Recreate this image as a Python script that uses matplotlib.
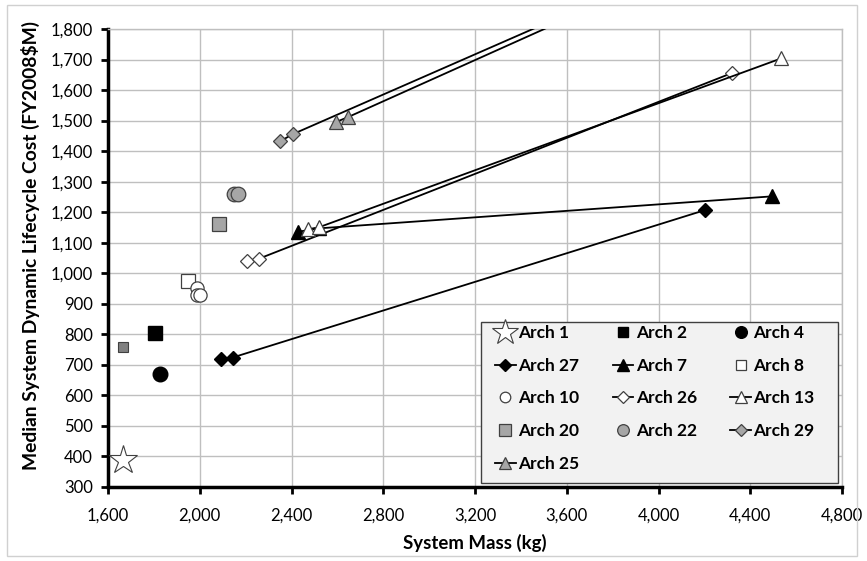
import matplotlib

matplotlib.use("Agg")
import matplotlib.pyplot as plt
from matplotlib.patches import Rectangle
from matplotlib.ticker import FuncFormatter

# System mass (kg) / median lifecycle cost (FY2008$M)
ARCH1_MASS = [1665]
ARCH1_COST = [390]
ARCH2_MASS = [1805]
ARCH2_COST = [804]
ARCH4_MASS = [1828]
ARCH4_COST = [669]
ARCH27_MASS = [2091, 2143, 4203]
ARCH27_COST = [718, 724, 1207]
ARCH7_MASS = [2429, 2518, 4497]
ARCH7_COST = [1136, 1147, 1252]
ARCH8_MASS = [1947]
ARCH8_COST = [975]
ARCH10_MASS = [1986, 1990, 2001]
ARCH10_COST = [951, 929, 929]
ARCH26_MASS = [2204, 2259, 4321]
ARCH26_COST = [1040, 1048, 1656]
ARCH13_MASS = [2473, 2521, 4536]
ARCH13_COST = [1144, 1151, 1704]
ARCH20_MASS = [2085]
ARCH20_COST = [1160]
ARCH20B_MASS = [1667]
ARCH20B_COST = [759]
ARCH22_MASS = [2151, 2168]
ARCH22_COST = [1259, 1259]
ARCH29_MASS = [2352, 2407, 4400]
ARCH29_COST = [1433, 1456, 2112]
ARCH25_MASS = [2593, 2645, 4620]
ARCH25_COST = [1495, 1511, 2177]

X_TICKS = list(range(1600, 4801, 400))
Y_TICKS = list(range(300, 1801, 100))

FONT = ["Lato", "DejaVu Sans"]
GRAY = "#a6a6a6"
EDGE = "#404040"
W, H = 867, 561


def _comma(value, _pos):
    return f"{int(value):,}"


plt.rcParams["font.family"] = FONT

fig = plt.figure(figsize=(W / 100, H / 100), dpi=100)
fig.patches.append(
    Rectangle(
        (7 / W, 1 - 556 / H),
        850 / W,
        551 / H,
        transform=fig.transFigure,
        fill=False,
        edgecolor="#d0d0d0",
        linewidth=1.0,
    )
)
ax = fig.add_axes([108 / W, 1 - 487 / H, 734 / W, 458 / H])

handles = {}
line_kw = dict(color="black", linewidth=1.3, zorder=3)

handles["Arch 1"], = ax.plot(ARCH1_MASS, ARCH1_COST, linestyle="none", marker="*",
                             markersize=21, markerfacecolor="white",
                             markeredgecolor=EDGE, markeredgewidth=0.8, zorder=4)
ax.plot(ARCH20B_MASS, ARCH20B_COST, linestyle="none", marker="s", markersize=6.5,
        markerfacecolor="#808080", markeredgecolor=EDGE, markeredgewidth=0.8, zorder=4)
handles["Arch 2"], = ax.plot(ARCH2_MASS, ARCH2_COST, linestyle="none", marker="s",
                             markersize=9.5, color="black", zorder=4)
handles["Arch 4"], = ax.plot(ARCH4_MASS, ARCH4_COST, linestyle="none", marker="o",
                             markersize=10.5, color="black", zorder=4)
handles["Arch 27"], = ax.plot(ARCH27_MASS, ARCH27_COST, marker="D", markersize=7.5,
                              markerfacecolor="black", markeredgecolor="black", **line_kw)
handles["Arch 8"], = ax.plot(ARCH8_MASS, ARCH8_COST, linestyle="none", marker="s",
                             markersize=9.5, markerfacecolor="white",
                             markeredgecolor=EDGE, markeredgewidth=0.9, zorder=4)
handles["Arch 10"], = ax.plot(ARCH10_MASS, ARCH10_COST, linestyle="none", marker="o",
                              markersize=9.5, markerfacecolor="white",
                              markeredgecolor=EDGE, markeredgewidth=0.9, zorder=4)
handles["Arch 20"], = ax.plot(ARCH20_MASS, ARCH20_COST, linestyle="none", marker="s",
                              markersize=10, markerfacecolor=GRAY,
                              markeredgecolor=EDGE, markeredgewidth=0.9, zorder=4)
handles["Arch 22"], = ax.plot(ARCH22_MASS, ARCH22_COST, linestyle="none", marker="o",
                              markersize=10.5, markerfacecolor=GRAY,
                              markeredgecolor=EDGE, markeredgewidth=0.9, zorder=4)
handles["Arch 26"], = ax.plot(ARCH26_MASS, ARCH26_COST, marker="D", markersize=7.5,
                              markerfacecolor="white", markeredgecolor=EDGE,
                              markeredgewidth=0.9, **line_kw)
handles["Arch 7"], = ax.plot(ARCH7_MASS, ARCH7_COST, marker="^", markersize=10,
                             markerfacecolor="black", markeredgecolor="black", **line_kw)
handles["Arch 13"], = ax.plot(ARCH13_MASS, ARCH13_COST, marker="^", markersize=10,
                              markerfacecolor="white", markeredgecolor=EDGE,
                              markeredgewidth=0.9, **line_kw)
handles["Arch 29"], = ax.plot(ARCH29_MASS, ARCH29_COST, marker="D", markersize=7.5,
                              markerfacecolor=GRAY, markeredgecolor=EDGE,
                              markeredgewidth=0.9, **line_kw)
handles["Arch 25"], = ax.plot(ARCH25_MASS, ARCH25_COST, marker="^", markersize=10,
                              markerfacecolor=GRAY, markeredgecolor=EDGE,
                              markeredgewidth=0.9, **line_kw)

ax.set_xlim(X_TICKS[0], X_TICKS[-1])
ax.set_ylim(Y_TICKS[0], Y_TICKS[-1])
ax.set_xticks(X_TICKS)
ax.set_yticks(Y_TICKS)
ax.xaxis.set_major_formatter(FuncFormatter(_comma))
ax.yaxis.set_major_formatter(FuncFormatter(_comma))
ax.tick_params(axis="both", direction="out", length=5, width=2, labelsize=12,
               colors="black")
ax.tick_params(axis="x", pad=10)
ax.tick_params(axis="y", pad=6)
ax.grid(True, color="#bfbfbf", linewidth=1.0)
ax.set_axisbelow(True)
for side in ("left", "bottom"):
    ax.spines[side].set_linewidth(2.5)
    ax.spines[side].set_color("black")
for side in ("top", "right"):
    ax.spines[side].set_linewidth(1.0)
    ax.spines[side].set_color("#bfbfbf")

ax.set_xlabel("System Mass (kg)", fontsize=13.4, fontweight="bold")
ax.set_ylabel("Median System Dynamic Lifecycle Cost (FY2008$M)", fontsize=13.9,
              fontweight="bold")
ax.xaxis.set_label_coords(0.5, (487 - 534) / 458)
ax.yaxis.set_label_coords((40 - 108) / 734, 0.527)

# legend frame drawn by hand so its edges can sit where the original has them
ax.add_patch(
    Rectangle(
        (481 / W, 1 - 483 / H),
        357 / W,
        161 / H,
        transform=fig.transFigure,
        facecolor="#f2f2f2",
        edgecolor=EDGE,
        linewidth=1.0,
        zorder=4.5,
        clip_on=False,
    )
)

# matplotlib fills legend columns first, so order column by column
legend_order = [
    "Arch 1", "Arch 27", "Arch 10", "Arch 20", "Arch 25",
    "Arch 2", "Arch 7", "Arch 26", "Arch 22",
    "Arch 4", "Arch 8", "Arch 13", "Arch 29",
]
legend = ax.legend(
    [handles[name] for name in legend_order],
    legend_order,
    ncol=3,
    loc="upper left",
    bbox_to_anchor=(495 / W, 1 - 325 / H),
    bbox_transform=fig.transFigure,
    prop={"family": FONT, "weight": "bold", "size": 12.5},
    handlelength=1.2,
    handletextpad=0.15,
    columnspacing=1.9,
    labelspacing=0.96,
    borderpad=0.0,
    borderaxespad=0.0,
    frameon=False,
    markerscale=0.8,
)
legend.legend_handles[0].set_markersize(19)
legend.set_zorder(5)

fig.savefig("out.png", dpi=100)
